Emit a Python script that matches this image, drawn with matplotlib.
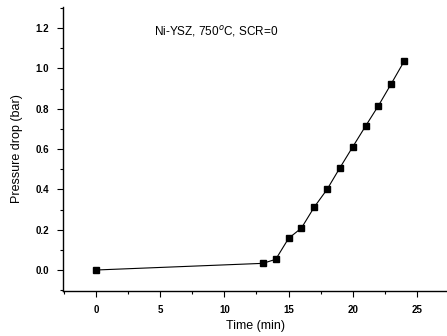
import matplotlib
matplotlib.use('Agg')
import matplotlib.pyplot as plt
from matplotlib.ticker import MultipleLocator

time_min = [0, 13, 14, 15, 16, 17, 18, 19, 20, 21, 22, 23, 24]
pressure_drop = [0.0, 0.033, 0.053, 0.157, 0.208, 0.312, 0.40, 0.507, 0.611, 0.714, 0.815, 0.924, 1.035]

plt.rcParams['font.family'] = 'Liberation Sans'

fig = plt.figure(figsize=(4.47, 3.36), dpi=100)
ax = fig.add_axes([0.141, 0.134, 0.859, 0.845])

ax.plot(time_min, pressure_drop, color='black', lw=0.8, marker='s', markersize=4.5)

ax.set_xlim(-2.57, 27.34)
ax.set_ylim(-0.104, 1.304)
ax.xaxis.set_major_locator(MultipleLocator(5))
ax.xaxis.set_minor_locator(MultipleLocator(2.5))
ax.yaxis.set_major_locator(MultipleLocator(0.2))
ax.yaxis.set_minor_locator(MultipleLocator(0.1))
ax.yaxis.set_major_formatter(plt.FormatStrFormatter('%.1f'))

for side in ['top', 'right']:
    ax.spines[side].set_visible(False)
for side in ['left', 'bottom']:
    ax.spines[side].set_linewidth(1.0)

ax.tick_params(which='major', direction='out', length=4, width=0.8, labelsize=7, pad=6)
ax.tick_params(which='minor', direction='out', length=2.5, width=0.8)
for lbl in ax.get_xticklabels() + ax.get_yticklabels():
    lbl.set_fontweight('bold')

ax.set_xlabel('Time (min)', fontsize=9, labelpad=4)
ax.set_ylabel('Pressure drop (bar)', fontsize=9, labelpad=9)
ax.text(0.398, 0.915, 'Ni-YSZ, 750$^o$C, SCR=0', transform=ax.transAxes, fontsize=8.5, ha='center', va='center')

fig.savefig('out.png', dpi=100)
